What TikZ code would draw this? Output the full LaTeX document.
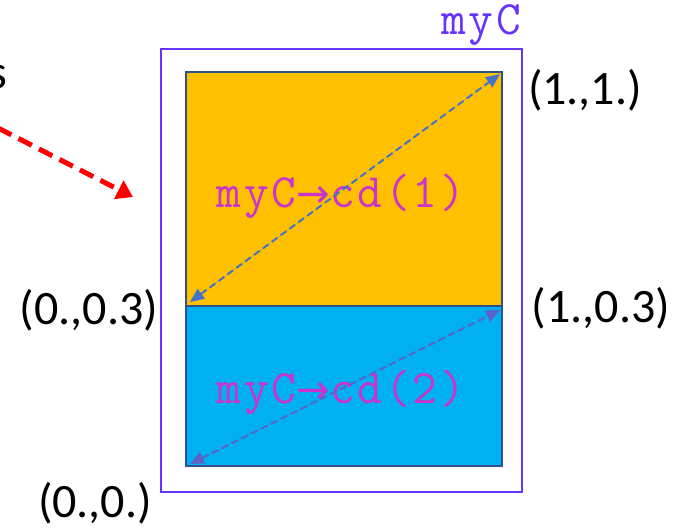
\documentclass[tikz,border=0pt]{standalone}
\usepackage{fontspec}
\setmainfont{Carlito}
\newfontfamily\monof[LetterSpace=6]{Latin Modern Mono}
\newfontfamily\symf{DejaVu Sans}
\usetikzlibrary{arrows.meta}
\definecolor{frameviolet}{RGB}{102,51,255}
\definecolor{boxorange}{RGB}{255,192,0}
\definecolor{boxblue}{RGB}{0,176,240}
\definecolor{boxedge}{RGB}{47,82,143}
\definecolor{arrowblue}{RGB}{68,114,196}
\definecolor{arrowblue2}{RGB}{90,100,200}
\definecolor{labmag}{RGB}{204,51,204}
\tikzset{
  coordlab/.style={font=\fontsize{48}{48}\selectfont, inner sep=0pt},
  cdlab/.style={font=\monof\fontsize{48}{48}\selectfont, text=labmag, inner sep=0pt, anchor=base},
  subbox/.style={draw=boxedge, line width=2pt},
  diag/.style={dashed, dash pattern=on 7pt off 4pt, line width=2pt, {Triangle[length=14pt,width=12pt]}-{Triangle[length=14pt,width=12pt]}}
}
\begin{document}
\begin{tikzpicture}[x=1pt,y=-1pt]
\useasboundingbox (0,0) rectangle (679,528);
% outer frame
\draw[frameviolet, line width=2pt] (161,49) rectangle (522,492);
\node[font=\monof\fontsize{48}{48}\selectfont, text=frameviolet, inner sep=0pt, anchor=base] (lblC) at (481,34) {myC};
% sub boxes
\fill[boxorange] (186,72) rectangle (502,306);
\fill[boxblue] (186,306) rectangle (502,466);
\draw[subbox] (186,72) rectangle (502,466);
\draw[subbox] (186,306) -- (502,306);
\coordinate (o1) at (190,302);
\coordinate (o2) at (500,74);
\coordinate (b1) at (190,464);
\coordinate (b2) at (500,310);
% labels in boxes
\node[cdlab] (cd1) at (341,207) {myC{\symf\fontsize{40}{40}\selectfont →}cd(1)};
\node[cdlab] (cd2) at (341,403) {myC{\symf\fontsize{40}{40}\selectfont →}cd(2)};
% diagonals
\draw[diag, draw=arrowblue, fill=arrowblue] (o1) -- (o2);
\draw[diag, draw=arrowblue2, fill=arrowblue2] (b1) -- (b2);
% coordinate labels
\node[coordlab] (p11) at (585,90) {(1.,1.)};
\node[coordlab] (p003) at (89,310) {(0.,0.3)};
\node[coordlab] (p103) at (601,308) {(1.,0.3)};
\node[coordlab] (p00) at (95,503) {(0.,0.)};
% clipped text fragment
\node[font=\fontsize{48}{48}\selectfont, inner sep=0pt, anchor=base east] (frag) at (7,88) {s};
% red arrow
\coordinate (ra) at (-2,128);
\coordinate (rb) at (133,197);
\draw[red, line width=5pt, dash pattern=on 15pt off 8pt, -{Triangle[length=16pt,width=20pt]}] (ra) -- (rb);
\end{tikzpicture}
\end{document}
